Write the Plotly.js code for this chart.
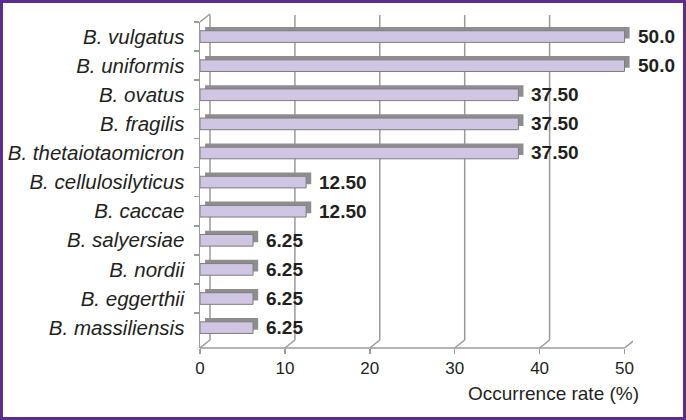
<!DOCTYPE html>
<html><head><meta charset="utf-8">
<script src="https://cdn.plot.ly/plotly-3.0.1.min.js"></script>
<style>
body{margin:0;background:#fff;}
#wrap{position:relative;width:686px;height:420px;}
#frame{position:absolute;left:0;top:0;width:686px;height:420px;box-sizing:border-box;border:3px solid #5C2D91;pointer-events:none;}
</style>
</head><body>
<div id="wrap"><div id="chart" style="width:686px;height:420px"></div><div id="frame"></div></div>
<script>
const species = ["B. vulgatus","B. uniformis","B. ovatus","B. fragilis","B. thetaiotaomicron","B. cellulosilyticus","B. caccae","B. salyersiae","B. nordii","B. eggerthii","B. massiliensis"];
const rates = [50, 50, 37.5, 37.5, 37.5, 12.5, 12.5, 6.25, 6.25, 6.25, 6.25];
const rateLabels = ["50.0","50.0","37.50","37.50","37.50","12.50","12.50","6.25","6.25","6.25","6.25"];
const tickValues = [0, 10, 20, 30, 40, 50];
const tickLabels = ["0","10","20","30","40","50"];
const axisTitle = "Occurrence rate (%)";

const FONT = "Liberation Sans, Arial, sans-serif";
const GRID = "#9a9a9a";
const xMax = tickValues[tickValues.length - 1];

const traces = [
  {type:"bar", orientation:"h", y:species, x:rates, base:0.6, width:0.4, offset:-0.33,
   marker:{color:"#8e8e8e", line:{width:0}}, hoverinfo:"skip"},
  {type:"bar", orientation:"h", y:species, x:rates, width:0.4, offset:-0.2,
   marker:{color:"#D0C5E2", line:{color:"#7d7d7d", width:1}}, hoverinfo:"skip"}
];

const shapes = [];
tickValues.forEach(v => {
  shapes.push({type:"line", layer:"below", xref:"x", yref:"paper", xsizemode:"pixel", ysizemode:"pixel",
    xanchor:v, yanchor:0, x0:0, x1:10, y0:0, y1:8, line:{color:GRID, width:1.5}});
  shapes.push({type:"line", layer:"below", xref:"x", yref:"paper", xsizemode:"pixel", ysizemode:"pixel",
    xanchor:v, yanchor:0, x0:10, x1:10, y0:8, y1:333, line:{color:GRID, width:1.5}});
});
// front floor line
shapes.push({type:"line", layer:"below", xref:"x", yref:"paper", x0:0, x1:xMax, y0:0, y1:0,
  line:{color:GRID, width:1.5}});
// top of left wall
shapes.push({type:"line", layer:"below", xref:"x", yref:"paper", xsizemode:"pixel", ysizemode:"pixel",
  xanchor:0, yanchor:1, x0:0, x1:10, y0:0, y1:8, line:{color:GRID, width:1.5}});

const annotations = rates.map((v,i) => ({
  x:v, y:species[i], xref:"x", yref:"y", text:rateLabels[i], showarrow:false,
  xanchor:"left", yanchor:"middle", xshift:11,
  font:{family:FONT, size:19, color:"#231F20", weight:"bold"}
}));
annotations.push({x:xMax, y:0, xref:"x", yref:"paper", text:axisTitle, showarrow:false,
  xanchor:"right", yanchor:"middle", xshift:16, yshift:-45,
  font:{family:FONT, size:19, color:"#231F20"}});

const layout = {
  width:686, height:420,
  margin:{l:200, r:52.5, t:22, b:72},
  paper_bgcolor:"#fff", plot_bgcolor:"rgba(0,0,0,0)",
  barmode:"overlay", showlegend:false,
  xaxis:{range:[0, 51], tickvals:tickValues, ticktext:tickLabels, showgrid:false, zeroline:false,
    showline:false, ticks:"outside", ticklen:5, tickcolor:GRID, tickwidth:1.5,
    tickfont:{family:FONT, size:17, color:"#231F20"}},
  yaxis:{type:"category", categoryorder:"array", categoryarray:species, range:[10.7,-0.5], autorange:false,
    showgrid:false, zeroline:false, showline:true, linecolor:GRID, linewidth:1.5,
    ticks:"outside", tickson:"boundaries", ticklen:5, tickcolor:GRID, tickwidth:1.5, ticklabelstandoff:10,
    tickfont:{family:FONT, size:20.5, color:"#231F20", style:"italic"}},
  shapes:shapes, annotations:annotations
};
Plotly.newPlot("chart", traces, layout, {displayModeBar:false, staticPlot:true});
</script>
</body></html>
